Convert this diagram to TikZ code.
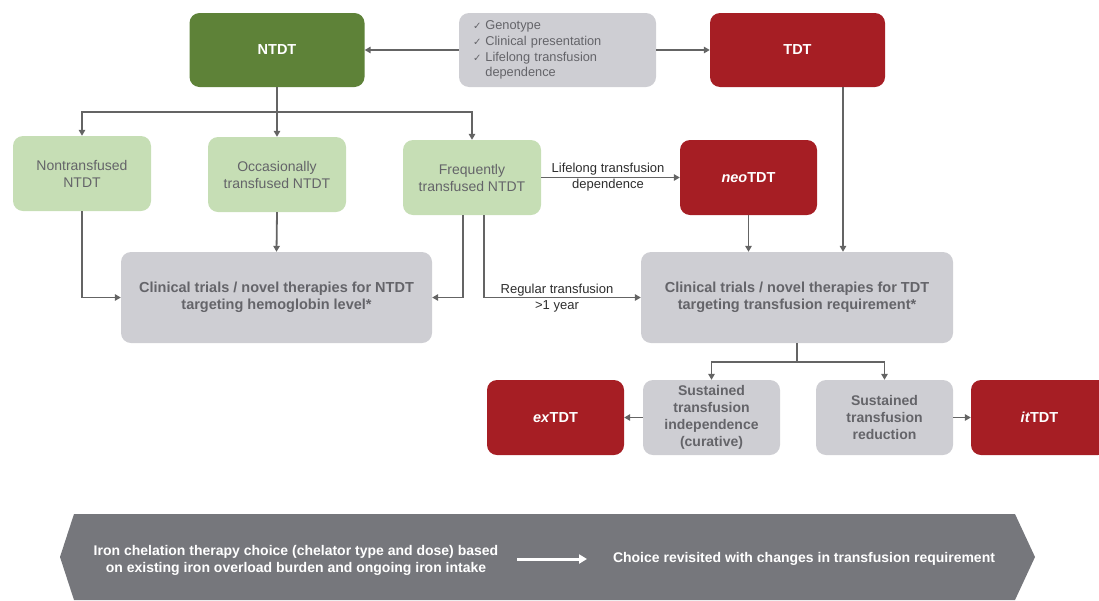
\documentclass[tikz,border=0pt]{standalone}
\usepackage{fontspec}
\setmainfont{Liberation Sans}
\newfontfamily\dejavu{DejaVu Sans}
\usetikzlibrary{arrows.meta}
\definecolor{ntgreen}{RGB}{94,130,56}
\definecolor{tdred}{RGB}{166,30,36}
\definecolor{lgreen}{RGB}{198,222,181}
\definecolor{lgray}{RGB}{206,206,211}
\definecolor{txtgray}{RGB}{100,100,105}
\definecolor{bannergray}{RGB}{118,119,124}
\definecolor{arrowgray}{RGB}{100,100,100}
\definecolor{lbltxt}{RGB}{45,45,45}
\tikzset{
  base/.style={rounded corners=10pt, inner sep=2pt, align=center, font=\fontsize{14}{17}\selectfont},
  darkgreen/.style={base, fill=ntgreen, text=white, font=\fontsize{14.5}{17}\selectfont\bfseries},
  darkred/.style={base, fill=tdred, text=white, font=\fontsize{14.5}{17}\selectfont\bfseries},
  lightgreen/.style={base, fill=lgreen, text=txtgray},
  lightgray/.style={base, fill=lgray, text=txtgray, font=\fontsize{14.5}{17}\selectfont\bfseries},
  conn/.style={draw=arrowgray, line width=1.8pt},
  arr/.style={conn, -{Triangle[length=6pt,width=6.5pt]}},
  lbl/.style={text=lbltxt, align=center, font=\fontsize{13}{15}\selectfont, inner sep=0pt},
  bantext/.style={text=white, align=center, font=\fontsize{14}{17}\selectfont\bfseries, inner sep=0pt}
}
\begin{document}
\begin{tikzpicture}[x=1pt,y=-1pt]
\useasboundingbox (0,0) rectangle (1099,600);
% top row
\node[darkgreen, minimum width=175pt, minimum height=74pt] (ntdt) at (277,50) {NTDT};
\node[base, fill=lgray, text=txtgray, text width=169pt, inner xsep=14pt, minimum height=74pt, align=left, font=\fontsize{12.8}{15.3}\selectfont] (crit) at (557.5,50)
  {\begin{tabular}{@{}l@{\hspace{4pt}}l@{}}{\dejavu\fontsize{10}{15.3}\selectfont ✓} & Genotype\\[0.6pt]
   {\dejavu\fontsize{10}{15.3}\selectfont ✓} & Clinical presentation\\[0.6pt]
   {\dejavu\fontsize{10}{15.3}\selectfont ✓} & Lifelong transfusion\\[0.6pt]
   & dependence\end{tabular}};
\node[darkred, minimum width=175pt, minimum height=74pt] (tdt) at (797.5,50) {TDT};
% second row
\node[lightgreen, minimum width=138pt, minimum height=75pt] (nontr) at (82,173.5) {Nontransfused\\NTDT};
\node[lightgreen, minimum width=138pt, minimum height=75pt] (occ) at (277,174.5) {Occasionally\\transfused NTDT};
\node[lightgreen, minimum width=138pt, minimum height=75pt] (freq) at (472,177.5) {Frequently\\transfused NTDT};
\node[darkred, minimum width=137pt, minimum height=75pt] (neo) at (748.5,177.5) {\textit{neo}TDT};
% third row
\node[lightgray, minimum width=311pt, minimum height=91pt] (cntdt) at (276.5,297.5) {Clinical trials / novel therapies for NTDT\\targeting hemoglobin level*};
\node[lightgray, minimum width=312pt, minimum height=91pt] (ctdt) at (797,297.5) {Clinical trials / novel therapies for TDT\\targeting transfusion requirement*};
% fourth row
\node[darkred, minimum width=137pt, minimum height=75pt] (ex) at (555.5,417.5) {\textit{ex}TDT};
\node[lightgray, minimum width=137pt, minimum height=75pt, font=\fontsize{14}{17}\selectfont\bfseries] (sind) at (711.5,417.5) {Sustained\\transfusion\\independence\\(curative)};
\node[lightgray, minimum width=137pt, minimum height=75pt, font=\fontsize{14}{17}\selectfont\bfseries] (sred) at (884.5,417.5) {Sustained\\transfusion\\reduction};
\node[darkred, minimum width=137pt, minimum height=75pt] (it) at (1039.5,417.5) {\textit{it}TDT};
% connectors
\draw[arr] (crit.west) -- (ntdt.east);
\draw[arr] (crit.east) -- (tdt.west);
\coordinate (split1) at (277,112);
\draw[conn] (ntdt.south) -- (split1);
\draw[arr] (split1) -| (nontr.north);
\draw[arr] (split1) -- (occ.north);
\draw[arr] (split1) -| (freq.north);
\draw[arr] (nontr.south) |- (cntdt.west);
\draw[arr] (occ.south) -- (cntdt.north);
\draw[arr] ([xshift=-9pt]freq.south) |- (cntdt.east);
\draw[arr] ([xshift=12pt]freq.south) |- (ctdt.west);
\node[lbl] (reglbl) at (557,298) {Regular transfusion\\[0.5pt]>1 year};
\draw[arr] (freq.east) -- (neo.west);
\node[lbl] (lifelbl) at (608,177) {Lifelong transfusion\\[0.5pt]dependence};
\draw[arr] (neo.south) -- (neo.south |- ctdt.north);
\draw[arr] ([xshift=45.5pt]tdt.south) -- ([xshift=45.5pt]tdt.south |- ctdt.north);
\coordinate (split2) at (797,362);
\draw[conn] (ctdt.south) -- (split2);
\draw[arr] (split2) -| (sind.north);
\draw[arr] (split2) -| (sred.north);
\draw[arr] (sind.west) -- (ex.east);
\draw[arr] (sred.east) -- (it.west);
% banner
\fill[bannergray] (74,514) -- (1015,514) -- (1035,557) -- (1015,600) -- (74,600) -- (60,557) -- cycle;
\node[bantext] (ban1) at (296,560) {Iron chelation therapy choice (chelator type and dose) based\\on existing iron overload burden and ongoing iron intake};
\node[bantext] (ban2) at (804,559) {Choice revisited with changes in transfusion requirement};
\coordinate (banarrS) at (517,559);
\coordinate (banarrE) at (587,559);
\draw[draw=white, line width=3pt, -{Triangle[length=8pt,width=9pt]}] (banarrS) -- (banarrE);
\end{tikzpicture}
\end{document}
